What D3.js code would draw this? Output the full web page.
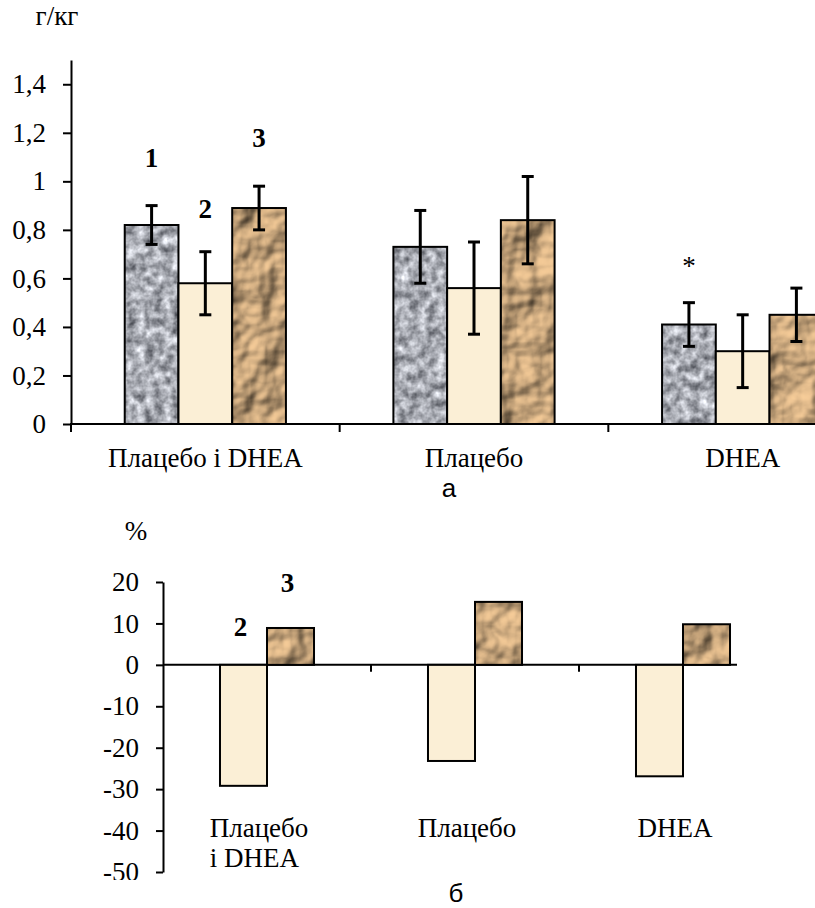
<!DOCTYPE html>
<html>
<head>
<meta charset="utf-8">
<script src="https://cdn.jsdelivr.net/npm/d3@7"></script>
<style>
  body { margin: 0; background: #fff; }
  text { fill: #000; }
  .serif { font-family: "Liberation Serif", "Times New Roman", serif; }
  .sans { font-family: "Liberation Sans", Arial, sans-serif; }
</style>
</head>
<body>
<script>
// chart a: mean values, г/кг
var categoriesA = ["Плацебо і DHEA", "Плацебо", "DHEA"];
var seriesA = ["1", "2", "3"];
var meansA = [[0.82, 0.58, 0.89], [0.73, 0.56, 0.84], [0.41, 0.30, 0.45]];
var errorsA = [[0.08, 0.13, 0.09], [0.15, 0.19, 0.18], [0.09, 0.15, 0.11]];
var ticksA = [0, 0.2, 0.4, 0.6, 0.8, 1, 1.2, 1.4];
var tickLabelsA = ["0", "0,2", "0,4", "0,6", "0,8", "1", "1,2", "1,4"];
var seriesLabelLevelA = [1.06, 0.85, 1.14];
var starA = { category: "DHEA", series: "1", level: 0.615 };

// chart б: change, %
var categoriesB = [["Плацебо", "і DHEA"], ["Плацебо"], ["DHEA"]];
var seriesB = ["2", "3"];
var valuesB = [[-29.2, 8.9], [-23.2, 15.2], [-26.9, 9.8]];
var ticksB = [20, 10, 0, -10, -20, -30, -40, -50];
var seriesLabelLevelB = [6.9, 17.6];

var W = 815, H = 908;

var svg = d3.select("body").append("svg").attr("width", W).attr("height", H);
var defs = svg.append("defs");

// textures
var granite = defs.append("filter").attr("id", "tex1")
    .attr("x", 0).attr("y", 0).attr("width", 1).attr("height", 1)
    .attr("color-interpolation-filters", "sRGB");
granite.append("feTurbulence").attr("type", "fractalNoise")
    .attr("baseFrequency", 0.11).attr("numOctaves", 3).attr("seed", 4).attr("result", "n");
granite.append("feColorMatrix").attr("type", "matrix")
    .attr("values", "1 0 0 0 0  1 0 0 0 0  1 0 0 0 0  0 0 0 0 1");
var gct = granite.append("feComponentTransfer");
gct.append("feFuncR").attr("type", "linear").attr("slope", 0.9).attr("intercept", 0.21);
gct.append("feFuncG").attr("type", "linear").attr("slope", 0.9).attr("intercept", 0.22);
gct.append("feFuncB").attr("type", "linear").attr("slope", 0.9).attr("intercept", 0.25);

var paper = defs.append("filter").attr("id", "tex3")
    .attr("x", 0).attr("y", 0).attr("width", 1).attr("height", 1)
    .attr("color-interpolation-filters", "sRGB");
paper.append("feTurbulence").attr("type", "fractalNoise")
    .attr("baseFrequency", 0.03).attr("numOctaves", 3).attr("seed", 9).attr("result", "n");
paper.append("feDiffuseLighting").attr("in", "n").attr("surfaceScale", 7)
    .attr("diffuseConstant", 1.18).attr("lighting-color", "#d2ae82")
  .append("feDistantLight").attr("azimuth", 225).attr("elevation", 52);

var fills = { "1": "#abaeb4", "2": "#fbefd6", "3": "#c4a27a" };
var filters = { "1": "url(#tex1)", "2": null, "3": "url(#tex3)" };

// ---------- chart a ----------
var yA = d3.scaleLinear().domain([0, 1.5]).range([424, 60]);
var xA = d3.scaleBand().domain(categoriesA).range([71, 877]);
var xA1 = d3.scaleBand().domain(seriesA).range([xA.bandwidth() * 0.2, xA.bandwidth() * 0.8]);

var gA = svg.append("g");

categoriesA.forEach(function(c, ci) {
    seriesA.forEach(function(s, si) {
        var v = meansA[ci][si], e = errorsA[ci][si];
        var x0 = xA(c) + xA1(s), bw = xA1.bandwidth();
        gA.append("rect").attr("x", x0).attr("y", yA(v))
            .attr("width", bw).attr("height", yA(0) - yA(v))
            .attr("fill", fills[s]).attr("filter", filters[s]);
        gA.append("rect").attr("x", x0).attr("y", yA(v))
            .attr("width", bw).attr("height", yA(0) - yA(v))
            .attr("fill", "none").attr("stroke", "#000").attr("stroke-width", 2);
        var cx = x0 + bw / 2;
        gA.append("line").attr("x1", cx).attr("x2", cx)
            .attr("y1", yA(v - e)).attr("y2", yA(v + e))
            .attr("stroke", "#000").attr("stroke-width", 3);
        [v - e, v + e].forEach(function(t) {
            gA.append("line").attr("x1", cx - 6).attr("x2", cx + 6)
                .attr("y1", yA(t)).attr("y2", yA(t))
                .attr("stroke", "#000").attr("stroke-width", 3);
        });
    });
});

// series numbers above first group
seriesA.forEach(function(s, si) {
    gA.append("text").attr("class", "serif")
        .attr("x", xA(categoriesA[0]) + xA1(s) + xA1.bandwidth() / 2)
        .attr("y", yA(seriesLabelLevelA[si]))
        .attr("text-anchor", "middle")
        .style("font-size", "27px").style("font-weight", "bold")
        .text(s);
});

gA.append("text").attr("class", "serif")
    .attr("x", xA(starA.category) + xA1(starA.series) + xA1.bandwidth() / 2)
    .attr("y", yA(starA.level))
    .attr("text-anchor", "middle")
    .style("font-size", "27px")
    .text("*");

// axes a
var yAxisA = d3.axisLeft(yA).tickValues(ticksA)
    .tickFormat(function(d, i) { return tickLabelsA[i]; })
    .tickSize(8).tickSizeOuter(0).tickPadding(17);
var gyA = gA.append("g").attr("transform", "translate(" + xA.range()[0] + ",0)").call(yAxisA);
gyA.attr("font-family", null).attr("font-size", null);
gyA.selectAll("path, line").attr("stroke", "#000").attr("stroke-width", 2);
gyA.selectAll("text").attr("class", "serif").style("font-size", "27px").attr("fill", "#000");

gA.append("line")
    .attr("x1", xA.range()[0] - 1).attr("x2", xA.range()[1])
    .attr("y1", yA(0)).attr("y2", yA(0))
    .attr("stroke", "#000").attr("stroke-width", 2);
categoriesA.forEach(function(c) {
    gA.append("line").attr("x1", xA(c)).attr("x2", xA(c))
        .attr("y1", yA(0)).attr("y2", yA(0) + 8)
        .attr("stroke", "#000").attr("stroke-width", 2);
    gA.append("text").attr("class", "serif")
        .attr("x", xA(c) + xA.bandwidth() / 2).attr("y", yA(0) + 43)
        .attr("text-anchor", "middle")
        .style("font-size", "27px")
        .text(c);
});

gA.append("text").attr("class", "serif").attr("x", 57).attr("y", 25).attr("text-anchor", "middle")
    .style("font-size", "27px").text("г/кг");
gA.append("text").attr("class", "sans").attr("x", 449).attr("y", 497).attr("text-anchor", "middle")
    .style("font-size", "26px").text("а");

// ---------- chart б ----------
var keysB = categoriesB.map(function(l) { return l.join(" "); });
var yB = d3.scaleLinear().domain([-50, 20]).range([872, 582]);
var xB = d3.scaleBand().domain(keysB).range([163, 787]);
var xB1 = d3.scaleBand().domain(seriesB).range([xB.bandwidth() * 0.274, xB.bandwidth() * 0.726]);

defs.append("clipPath").attr("id", "clipB")
  .append("rect").attr("x", 0).attr("y", 560).attr("width", 737).attr("height", 320);

var gB = svg.append("g");
var axB = gB.append("g").attr("clip-path", "url(#clipB)");

keysB.forEach(function(c, ci) {
    seriesB.forEach(function(s, si) {
        var v = valuesB[ci][si];
        var x0 = xB(c) + xB1(s), bw = xB1.bandwidth();
        var y0 = Math.min(yB(v), yB(0)), h = Math.abs(yB(v) - yB(0));
        gB.append("rect").attr("x", x0).attr("y", y0)
            .attr("width", bw).attr("height", h)
            .attr("fill", fills[s]).attr("filter", filters[s]);
        gB.append("rect").attr("x", x0).attr("y", y0)
            .attr("width", bw).attr("height", h)
            .attr("fill", "none").attr("stroke", "#000").attr("stroke-width", 2);
    });
});

seriesB.forEach(function(s, si) {
    gB.append("text").attr("class", "serif")
        .attr("x", xB(keysB[0]) + xB1(s) + xB1.bandwidth() / 2 - 3)
        .attr("y", yB(seriesLabelLevelB[si]))
        .attr("text-anchor", "middle")
        .style("font-size", "27px").style("font-weight", "bold")
        .text(s);
});

var yAxisB = d3.axisLeft(yB).tickValues(ticksB)
    .tickFormat(function(d) { return String(d); })
    .tickSize(7).tickSizeOuter(0).tickPadding(17);
var gyB = axB.append("g").attr("transform", "translate(" + xB.range()[0] + ",0)").call(yAxisB);
gyB.attr("font-family", null).attr("font-size", null);
gyB.selectAll("path, line").attr("stroke", "#000").attr("stroke-width", 2);
gyB.selectAll("text").attr("class", "serif").style("font-size", "27px").attr("fill", "#000");

axB.append("line")
    .attr("x1", xB.range()[0]).attr("x2", xB.range()[1])
    .attr("y1", yB(0)).attr("y2", yB(0))
    .attr("stroke", "#000").attr("stroke-width", 2);
keysB.forEach(function(c, ci) {
    if (ci > 0) {
        axB.append("line").attr("x1", xB(c)).attr("x2", xB(c))
            .attr("y1", yB(0)).attr("y2", yB(0) + 7)
            .attr("stroke", "#000").attr("stroke-width", 2);
    }
    var t = gB.append("text").attr("class", "serif").style("font-size", "27px");
    categoriesB[ci].forEach(function(line, li) {
        t.append("tspan").attr("y", 837 + li * 30).text(line);
    });
    var wMax = d3.max(t.selectAll("tspan").nodes(), function(n) { return n.getComputedTextLength(); });
    var left = xB(c) + xB.bandwidth() / 2 - 8 - wMax / 2;
    t.selectAll("tspan").attr("x", left);
});

gB.append("text").attr("class", "serif").attr("x", 136).attr("y", 540).attr("text-anchor", "middle")
    .style("font-size", "27px").text("%");
gB.append("text").attr("class", "sans").attr("x", 456).attr("y", 902).attr("text-anchor", "middle")
    .style("font-size", "26px").text("б");
</script>
</body>
</html>
